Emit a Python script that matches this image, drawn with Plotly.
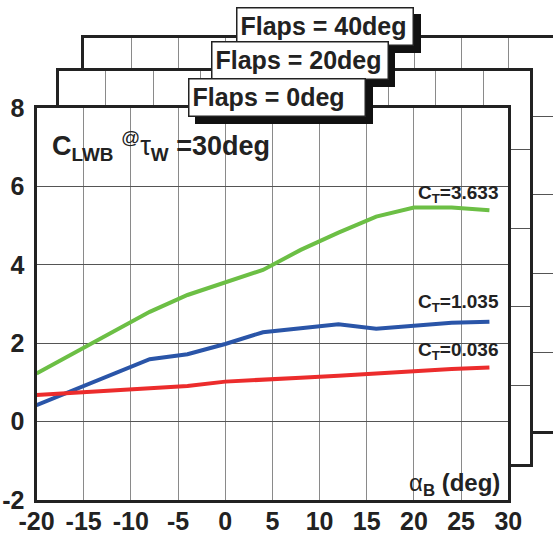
import plotly.graph_objects as go

# ---------------- data ----------------
alpha_b = [-20, -16, -12, -8, -4, 0, 4, 8, 12, 16, 20, 24, 28]
cl_ct_3633 = [1.23, 1.75, 2.28, 2.80, 3.23, 3.55, 3.87, 4.38, 4.82, 5.23, 5.46, 5.46, 5.39]
cl_ct_1035 = [0.42, 0.81, 1.20, 1.59, 1.72, 1.98, 2.28, 2.38, 2.48, 2.37, 2.45, 2.52, 2.55]
cl_ct_0036 = [0.68, 0.74, 0.79, 0.85, 0.91, 1.02, 1.06, 1.12, 1.17, 1.23, 1.29, 1.34, 1.38]
series_labels = ["C<sub>T</sub>=3.633", "C<sub>T</sub>=1.035", "C<sub>T</sub>=0.036"]
series_colors = ["#6cbf45", "#2a55a8", "#ec2c2c"]
label_y = [5.80, 3.02, 1.80]
x_ticks = [-20, -15, -10, -5, 0, 5, 10, 15, 20, 25, 30]
y_ticks = [-2, 0, 2, 4, 6, 8]
panel_titles = ["Flaps = 40deg", "Flaps = 20deg", "Flaps = 0deg"]

W, H = 553, 539
FONT = "Liberation Sans, Arial, Helvetica, sans-serif"
INK = "#222222"

fig = go.Figure()

def px_x(p):
    return p / W

def px_y(p):
    return 1 - p / H

# panel domains (pixels): back panel 3 (40deg), panel 2 (20deg), front panel 1 (0deg)
panels = [
    dict(l=84.3, r=553.0, t=37.7, b=430.7, xr=[-20, -20 + (553.0 - 84.3) / 9.434]),
    dict(l=58.7, r=530.3, t=71.0, b=464.0, xr=[-20, 30]),
    dict(l=36.5, r=508.3, t=108.0, b=500.0, xr=[-20, 30]),
]

for i, p in enumerate(panels):
    n = "" if i == 0 else str(i + 1)
    front = (i == 2)
    xa = dict(
        domain=[px_x(p["l"]), px_x(p["r"])], range=p["xr"], anchor="y" + n,
        showgrid=True, gridcolor="#8a8a8a", gridwidth=1, dtick=5, tick0=0,
        zeroline=False, showline=True, linecolor=INK, linewidth=3, mirror=True,
        showticklabels=front, ticks="", fixedrange=True, automargin=False,
    )
    ya = dict(
        domain=[px_y(p["b"]), px_y(p["t"])], range=[-2, 8], anchor="x" + n,
        showgrid=True, gridcolor="#555555", gridwidth=1, dtick=2, tick0=0,
        zeroline=False, showline=True, linecolor=INK, linewidth=3,
        mirror=(True if i > 0 else False),
        showticklabels=front, ticks="", fixedrange=True, automargin=False,
    )
    if front:
        xa.update(tickvals=x_ticks, ticktext=[str(v) for v in x_ticks],
                  tickfont=dict(family=FONT, size=25, color=INK, weight="bold"),
                  ticklabelstandoff=-3)
        ya.update(tickvals=y_ticks, ticktext=[str(v) for v in y_ticks],
                  tickfont=dict(family=FONT, size=25, color=INK, weight="bold"),
                  ticklabelstandoff=4)
    fig.update_layout(**{"xaxis" + n: xa, "yaxis" + n: ya})
    if not front:
        fig.add_trace(go.Scatter(x=[], y=[], xaxis="x" + n, yaxis="y" + n,
                                 showlegend=False, hoverinfo="skip"))

series = [cl_ct_3633, cl_ct_1035, cl_ct_0036]
for vals, col in zip(series, series_colors):
    fig.add_trace(go.Scatter(x=alpha_b, y=vals, xaxis="x3", yaxis="y3", mode="lines",
                             line=dict(color=col, width=4), showlegend=False,
                             hoverinfo="skip"))

annotations = []
for lab, ly in zip(series_labels, label_y):
    annotations.append(dict(
        x=29.2, y=ly, xref="x3", yref="y3", xanchor="right", yanchor="middle",
        text=lab, showarrow=False,
        font=dict(family=FONT, size=19, color=INK, weight="bold")))

annotations.append(dict(
    x=px_x(50), y=px_y(146), xref="paper", yref="paper", xanchor="left", yanchor="middle",
    text="<b>C<sub>LWB</sub></b> <sup>@</sup>τ<sub><b>W</b></sub> <b>=30deg</b>",
    showarrow=False, font=dict(family=FONT, size=27, color=INK)))

annotations.append(dict(
    x=29.3, y=-1.6, xref="x3", yref="y3", xanchor="right", yanchor="middle",
    text="α<sub><b>B</b></sub> <b>(deg)</b>",
    showarrow=False, font=dict(family=FONT, size=24, color=INK)))

# panel title boxes with drop shadow
boxes = [(325.0, 26.6), (299.5, 60.7), (277.0, 97.35)]
for title, (cx, cy) in zip(panel_titles, boxes):
    common = dict(xref="paper", yref="paper", xanchor="center", yanchor="middle",
                  text="<b>" + title + "</b>", showarrow=False, align="left",
                  width=169, height=29.7, borderpad=3, borderwidth=1.5)
    annotations.append(dict(x=px_x(cx + 6.5), y=px_y(cy + 6.7), bgcolor="#111111",
                            bordercolor="#111111",
                            font=dict(family=FONT, size=25, color="#111111"), **common))
    annotations.append(dict(x=px_x(cx), y=px_y(cy), bgcolor="white", bordercolor=INK,
                            font=dict(family=FONT, size=25, color=INK), **common))

fig.update_layout(
    width=W, height=H, margin=dict(l=0, r=0, t=0, b=0, pad=0, autoexpand=False),
    paper_bgcolor="white", plot_bgcolor="white",
    annotations=annotations, showlegend=False,
)

fig.write_html("out.html", config={"displayModeBar": False},
               post_script="document.body.style.margin='0';document.body.style.overflow='hidden';")
